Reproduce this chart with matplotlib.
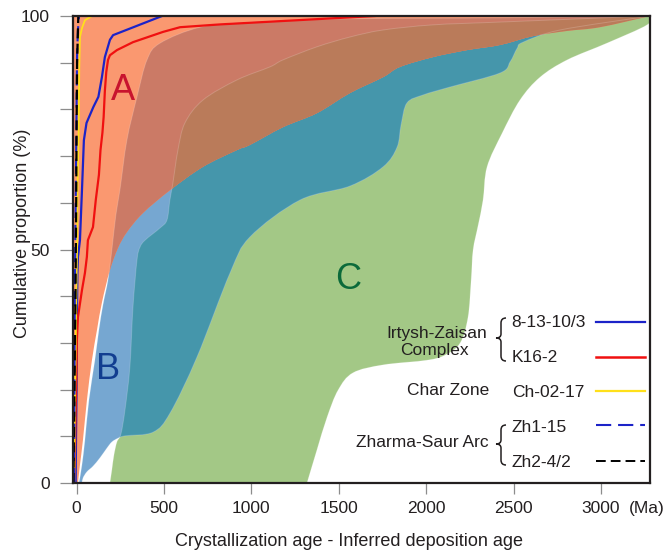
import matplotlib
matplotlib.use("Agg")
import numpy as np
import matplotlib.pyplot as plt
from matplotlib.path import Path
from matplotlib.patches import PathPatch
from matplotlib.lines import Line2D
from matplotlib.transforms import Affine2D

plt.rcParams['font.family'] = ['Liberation Sans', 'DejaVu Sans']

# --- field outlines (CA-DA in Ma, cumulative proportion in %) ---
# field C (extensional): upper/left edge bottom->top, then lower/right edge top->bottom
c_up_x = [191, 202, 214, 231, 254, 277, 305, 323, 346, 363, 392, 477, 517, 534, 551, 580, 620,
          723, 917, 1106, 1181, 1375, 1564, 1753, 2039, 2422, 3280]
c_up_y = [0, 2.8, 6.0, 8.8, 10.5, 15.6, 24.8, 37.7, 47.8, 50.5, 52.0, 54.6, 56.3, 60.6, 64.2, 71.3, 77.1,
          82.0, 86.3, 89.1, 90.6, 93.4, 95.5, 97.0, 98.1, 98.7, 100]
c_lo_x = [3280, 3263, 3034, 2806, 2651, 2536, 2434, 2348, 2325, 2297, 2268, 2257, 2239, 2194, 2108, 2004,
          1753, 1581, 1496, 1433, 1375, 1318]
c_lo_y = [100, 98.1, 94.2, 90.6, 86.9, 82.0, 74.9, 67.7, 60.6, 55.2, 49.9, 43.5, 35.5, 30.0, 27.4, 26.3,
          25.3, 23.6, 19.9, 14.1, 7.1, 0]

# field B (collisional)
b_up_x = [14, 31, 48, 71, 105, 128, 151, 180, 202, 225, 248, 288, 346, 403, 478, 707, 993, 1565, 2423, 3280]
b_up_y = [0, 3.9, 9.2, 17.8, 26.3, 32.8, 38.1, 43.5, 49.9, 57.4, 62.7, 73.4, 82.7, 90.6, 94.2, 97.6,
          98.7, 99.4, 99.6, 100]
b_lo_x = [3280, 2765, 2554, 2520, 2480, 2422, 2136, 1982, 1890, 1856, 1833, 1753, 1564, 1278, 992, 878, 689,
          535, 438, 277, 237, 202, 174, 134, 94, 59, 37, 31]
b_lo_y = [100, 97.0, 94.4, 93.1, 90.2, 87.8, 84.8, 83.1, 81.4, 76.7, 71.9, 67.7, 63.6, 60.6, 52.7, 45.0, 27.0,
          15.0, 10.9, 10.1, 9.6, 8.8, 7.5, 5.4, 3.6, 2.4, 1.1, 0]

# field A (convergent): lower/right edge top->bottom, closed along the left of the axes
a_lo_x = [3280, 2994, 2806, 2612, 2423, 2234, 2039, 1850, 1753, 1564, 1375, 1181, 992, 918, 723, 535,
          380, 288, 237, 191, 146, 117, 88, 59.5, 36.6, 19.5, 8]
a_lo_y = [100, 97.6, 96.8, 95.7, 93.8, 92.7, 91.2, 89.1, 86.9, 83.5, 79.2, 76.2, 72.4, 71.3, 67.7, 62.7,
          57.8, 53.7, 50.3, 45.6, 38.8, 32.8, 26.3, 17.8, 9.2, 3.9, 0]

# --- sample curves ---
s1_x = [-5, -3, 0, 2, 5, 8, 19.5, 31, 42, 57, 96, 125, 145, 162, 191, 209, 489]
s1_y = [0, 10, 20, 35, 45, 48.4, 52, 62.7, 73.4, 77.1, 80.5, 82.7, 86.9, 91.2, 94.9, 95.9, 100]
s2_x = [-15, -10, -5, 0, 2, 8, 31, 48, 59, 65, 94, 110, 128, 137, 148, 155, 162, 170, 180, 191, 231,
        323, 495, 592, 706, 820, 1707]
s2_y = [0, 5, 15, 25, 30.6, 35.5, 41.3, 45, 48.4, 52, 54.8, 60.6, 66, 71.3, 75, 78.4, 84, 88, 90.6,
        91.6, 92.7, 94.4, 96.6, 97.6, 97.9, 98.2, 100]
s3_x = [-13, -10, -5, -2, 3, 6, 12, 15.6, 19.5, 31, 48, 88]
s3_y = [0, 15, 28, 38, 50, 64, 75, 89, 95.5, 97.4, 99.1, 100]
s4_x = [-15, -12, -10, -5, 0, 3, 8, 14]
s4_y = [0, 20, 40, 60, 80, 92, 97, 100]
s5_x = [-18, -12, -6, -2, 0, 3, 8, 10]
s5_y = [0, 20, 40, 60, 75, 90, 97, 100]

groups = ["Irtysh-Zaisan", "Complex", "Char Zone", "Zharma-Saur Arc"]
samples = ["8-13-10/3", "K16-2", "Ch-02-17", "Zh1-15", "Zh2-4/2"]
x_ticks = [0, 500, 1000, 1500, 2000, 2500, 3000]
y_ticks = [0, 10, 20, 30, 40, 50, 60, 70, 80, 90, 100]
y_labels = ["0", "", "", "", "", "50", "", "", "", "", "100"]

col_C = '#A3C886'
col_B = '#76A7D1'
col_BC = '#4596AB'
col_A = '#FA9870'
col_AB = '#CB7A66'
col_ABC = '#BA7B5A'
txt = '#231F20'


def curve(xs, ys):
    # smooth bezier through the outline points
    p = np.column_stack([xs, ys]).astype(float)
    n = len(p)
    out = [p[0]]
    for i in range(n - 1):
        p0, p1, p2, p3 = p[max(i - 1, 0)], p[i], p[i + 1], p[min(i + 2, n - 1)]
        out += [p1 + (p2 - p0) / 6, p2 - (p3 - p1) / 6, p2]
    return out


def field_path(*parts):
    verts, codes = [], []
    for k, (xs, ys) in enumerate(parts):
        pts = curve(xs, ys)
        verts.append(pts[0])
        codes.append(Path.MOVETO if k == 0 else Path.LINETO)
        verts += pts[1:]
        codes += [Path.CURVE4] * (len(pts) - 1)
    verts.append(verts[0])
    codes.append(Path.CLOSEPOLY)
    return Path(verts, codes)


W, H = 664, 551
fig = plt.figure(figsize=(W / 100, H / 100), dpi=100)
ax = fig.add_axes([72.7 / W, 1 - 483 / H, (650 - 72.7) / W, (483 - 16) / H])
ax.set_xlim(-22, 3280)
ax.set_ylim(0, 100)

path_C = field_path((c_up_x, c_up_y), (c_lo_x, c_lo_y))
path_B = field_path((b_up_x, b_up_y), (b_lo_x, b_lo_y))
path_A = field_path((a_lo_x, a_lo_y), ([8, -40], [0, 0]), ([-40, -40], [0, 100]))


def add(path, color, z, clip=None):
    p = PathPatch(path, fc=color, lw=0, zorder=z)
    ax.add_patch(p)
    if clip is not None:
        p.set_clip_path(clip)
    return p


c_patch = add(path_C, col_C, 1)
b_patch = add(path_B, col_B, 2)
add(path_B, col_BC, 3, c_patch)
a_patch = add(path_A, col_A, 4)
add(path_A, col_AB, 5, b_patch)
add(path_C, col_ABC, 6, a_patch)
# faint field outlines
for pth in (path_B, path_C):
    ax.add_patch(PathPatch(pth, fill=False, ec=(1, 1, 1, 0.18), lw=0.7, zorder=7))

ax.plot(s1_x, s1_y, color='#1C23C8', lw=1.6, zorder=8)
ax.plot(s2_x, s2_y, color='#F01010', lw=1.6, zorder=8)
ax.plot(s3_x, s3_y, color='#FFE01A', lw=1.3, zorder=8)
ax.plot(s4_x, s4_y, color='#1C23C8', lw=1.5, dashes=(7.3, 3.3), zorder=8)
ax.plot(s5_x, s5_y, color='black', lw=1.6, dashes=(4.5, 2.4), zorder=9)

ax.text(268, 84.0, "A", color='#C8142E', fontsize=26, ha='center', va='center', zorder=10)
ax.text(180, 24.3, "B", color='#123E90', fontsize=26, ha='center', va='center', zorder=10)
ax.text(1555, 43.6, "C", color='#0B6A3A', fontsize=26, ha='center', va='center', zorder=10)

for s in ax.spines.values():
    s.set_color(txt)
    s.set_linewidth(1.6)
    s.set_zorder(12)

ax.set_xticks(x_ticks)
ax.set_yticks(y_ticks)
ax.set_yticklabels(y_labels)
ax.tick_params(axis='y', direction='out', length=9.5, width=0.9, color='#8C8C8C',
               labelsize=12.5, labelcolor=txt, pad=7)
ax.tick_params(axis='x', direction='out', length=8, width=0.9, color='#8C8C8C',
               labelsize=12.5, labelcolor=txt, pad=5)

# pixel transform (y down) for the annotations
px = Affine2D().scale(1 / W, -1 / H).translate(0, 1) + fig.transFigure

fig.text(349, 546, "Crystallization age - Inferred deposition age", transform=px,
         fontsize=13, color=txt, ha='center', va='baseline')
fig.text(23, 233, "Cumulative proportion (%)", transform=px, rotation=90,
         fontsize=13, color=txt, ha='center', va='center')
fig.text(647, 513, "(Ma)", transform=px, fontsize=12.5, color=txt, ha='center', va='baseline')

# legend block
fig.text(437, 337.7, groups[0], transform=px, fontsize=12.5, color=txt, ha='center', va='baseline')
fig.text(434.5, 355, groups[1], transform=px, fontsize=12.5, color=txt, ha='center', va='baseline')
fig.text(489, 395, groups[2], transform=px, fontsize=12.5, color=txt, ha='right', va='baseline')
fig.text(489, 447.3, groups[3], transform=px, fontsize=12.5, color=txt, ha='right', va='baseline')

base = [327, 361.7, 396.7, 431.7, 467]
line_y = [321.7, 356.7, 390.7, 425.3, 460.7]
styles = [dict(color='#1C23C8', lw=1.6), dict(color='#F01010', lw=1.8),
          dict(color='#FFE01A', lw=1.6), dict(color='#1C23C8', lw=1.5, dashes=(7.3, 3.3)),
          dict(color='black', lw=1.4, dashes=(5, 2.6))]
for name, yb, yl, st in zip(samples, base, line_y, styles):
    fig.text(511.7, yb, name, transform=px, fontsize=12.5, color=txt, ha='left', va='baseline')
    fig.add_artist(Line2D([596, 645], [yl, yl], transform=px, **st))


def brace(top, bot, tip):
    xr, xv, xt = 506, 501, 496
    verts = [(xr, top), (xv, top), (xv, top + 5), (xv, tip - 4), (xv, tip), (xt, tip),
             (xv, tip), (xv, tip + 4), (xv, bot - 5), (xv, bot), (xr, bot)]
    codes = [Path.MOVETO, Path.CURVE3, Path.CURVE3, Path.LINETO, Path.CURVE3, Path.CURVE3,
             Path.CURVE3, Path.CURVE3, Path.LINETO, Path.CURVE3, Path.CURVE3]
    fig.add_artist(PathPatch(Path(verts, codes), transform=px, fill=False, lw=1.1, ec=txt))


brace(318, 361, 338)
brace(425, 465, 444)

fig.savefig("out.png", dpi=100)
